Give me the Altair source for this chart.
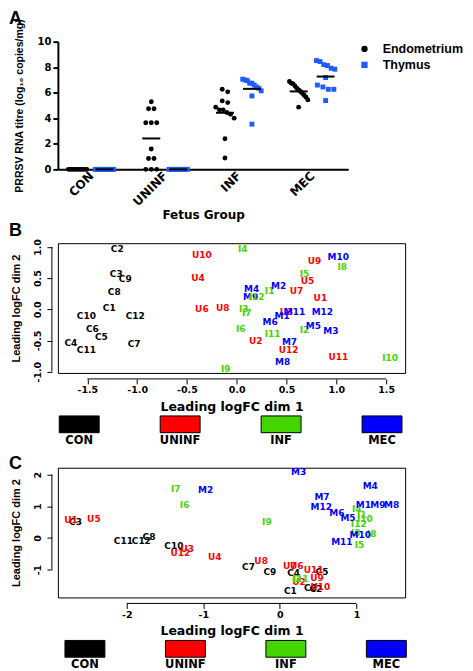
import altair as alt
import numpy as np
import pandas as pd

# ---------------- Panel A data (log10 copies/mg) ----------------
groups = ["CON", "UNINF", "INF", "MEC"]
tissues = ["Endometrium", "Thymus"]
tissue_colors = ["#000000", "#1f5cff"]

con_endometrium = [0, 0, 0, 0, 0, 0, 0, 0, 0, 0, 0, 0]
uninf_endometrium = [5.3, 4.75, 4.75, 3.65, 3.65, 3.65, 1.6, 0.85, 0.85, 0, 0, 0]
inf_endometrium = [6.27, 6.07, 5.36, 5.23, 4.87, 4.66, 4.66, 4.45, 4.32, 4.01, 2.40, 0.89]
mec_endometrium = [6.88, 6.75, 6.69, 6.53, 6.35, 6.22, 6.1, 5.96, 5.8, 5.65, 5.44, 4.87]

con_thymus = [0, 0, 0, 0, 0, 0, 0, 0, 0, 0, 0, 0]
uninf_thymus = [0, 0, 0, 0, 0, 0, 0, 0, 0, 0, 0, 0]
inf_thymus = [7.06, 7.0, 6.95, 6.75, 6.75, 6.6, 6.45, 6.35, 6.15, 5.75, 3.54]
mec_thymus = [8.52, 8.44, 8.2, 8.13, 7.92, 7.84, 7.19, 6.45, 6.6, 6.27, 6.27, 5.39]

# ---------------- Panel B data (MDS, first set) ----------------
b_labels = ["C2", "C3", "C9", "C8", "C1", "C10", "C12", "C6", "C5", "C4", "C11", "C7",
            "U10", "U4", "U6", "U8", "U9", "U5", "U7", "U1", "U3", "U2", "U12", "U11",
            "I4", "I5", "I8", "I1", "I3", "I7", "I6", "I11", "I2", "I9", "I10",
            "M10", "M2", "M4", "M9", "I12", "M1", "M11", "M12", "M6", "M5", "M3", "M7", "M8"]
b_dim1 = [-1.20, -1.21, -1.12, -1.23, -1.28, -1.51, -1.02, -1.45, -1.36, -1.665, -1.51, -1.03,
          -0.35, -0.39, -0.35, -0.14, 0.78, 0.71, 0.60, 0.84, 0.50, 0.19, 0.52, 1.02,
          0.06, 0.68, 1.06, 0.33, 0.07, 0.10, 0.04, 0.36, 0.68, -0.11, 1.54,
          1.02, 0.42, 0.15, 0.14, 0.20, 0.455, 0.58, 0.86, 0.335, 0.77, 0.945, 0.53, 0.46]
b_dim2 = [0.97, 0.57, 0.48, 0.28, 0.02, -0.11, -0.10, -0.32, -0.45, -0.54, -0.65, -0.55,
          0.87, 0.50, 0.00, 0.02, 0.77, 0.46, 0.29, 0.18, -0.05, -0.51, -0.65, -0.76,
          0.96, 0.57, 0.68, 0.29, 0.00, -0.06, -0.31, -0.39, -0.33, -0.95, -0.78,
          0.84, 0.37, 0.32, 0.20, 0.20, -0.10, -0.05, -0.04, -0.21, -0.27, -0.35, -0.53, -0.85]

# ---------------- Panel C data (MDS, second set) ----------------
c_labels = ["C3", "C11", "C12", "C8", "C10", "C7", "C9", "C5", "C4", "C6", "C2", "C1",
            "U1", "U5", "U3", "U12", "U4", "U8", "U7", "U6", "U11", "U9", "U2", "U10",
            "I7", "I6", "I9", "I4", "I1", "I10", "I12", "I3", "I8", "I5", "I2", "I11",
            "M2", "M3", "M4", "M7", "M12", "M6", "M5", "M1", "M9", "M8", "M10", "M11"]
c_dim1 = [-2.67, -2.045, -1.81, -1.71, -1.385, -0.41, -0.13, 0.55, 0.18, 0.40, 0.47, 0.137,
          -2.73, -2.43, -1.21, -1.30, -0.85, -0.245, 0.13, 0.22, 0.44, 0.485, 0.25, 0.53,
          -1.36, -1.245, -0.17, 1.006, 1.07, 1.11, 1.03, 0.99, 1.20, 1.04, 0.22, 0.27,
          -0.97, 0.245, 1.18, 0.55, 0.54, 0.745, 0.89, 1.09, 1.28, 1.46, 1.05, 0.81]
c_dim2 = [0.49, -0.10, -0.10, 0.03, -0.26, -0.93, -1.07, -1.07, -1.12, -1.57, -1.60, -1.68,
          0.56, 0.61, -0.34, -0.49, -0.61, -0.74, -0.88, -0.88, -1.02, -1.26, -1.38, -1.55,
          1.56, 1.05, 0.51, 0.93, 0.74, 0.59, 0.45, 0.16, 0.14, -0.21, -1.30, -1.31,
          1.53, 2.07, 1.63, 1.29, 0.98, 0.80, 0.64, 1.05, 1.05, 1.03, 0.085, -0.13]

group_colors = ["#000000", "#ff0000", "#44d400", "#0000ff"]
prefix = {"C": "CON", "U": "UNINF", "I": "INF", "M": "MEC"}

HF = "DejaVu Sans"        # wide face for horizontal text
RF = "Liberation Sans"    # face for rotated titles / panel letters


# ---------------- Panel A ----------------
def swarm(vals, tol=0.35, step=0.0745, cap=0.125):
    vals = np.asarray(vals, dtype=float)
    order = list(np.argsort(-vals, kind="stable"))
    offs = np.zeros(len(vals))
    clusters, cur = [], [order[0]]
    for idx in order[1:]:
        if abs(vals[idx] - vals[cur[-1]]) <= tol:
            cur.append(idx)
        else:
            clusters.append(cur)
            cur = [idx]
    clusters.append(cur)
    for cl in clusters:
        n = len(cl)
        if n == 1:
            continue
        st = min(step, 2 * cap / (n - 1))
        for k, idx in enumerate(cl):
            offs[idx] = (k - (n - 1) / 2) * st
    return offs


columns = [
    ("CON", "Endometrium", con_endometrium), ("CON", "Thymus", con_thymus),
    ("UNINF", "Endometrium", uninf_endometrium), ("UNINF", "Thymus", uninf_thymus),
    ("INF", "Endometrium", inf_endometrium), ("INF", "Thymus", inf_thymus),
    ("MEC", "Endometrium", mec_endometrium), ("MEC", "Thymus", mec_thymus),
]
side = {"Endometrium": -0.183, "Thymus": 0.183}
rows = []
for g, t, vals in columns:
    c = groups.index(g) + side[t]
    for v, j in zip(vals, swarm(vals)):
        rows.append({"group": g, "tissue": t, "value": v, "center": c, "pos": c + j})
dfA = pd.DataFrame(rows)

xA = alt.Scale(domain=[-0.45, 3.49], nice=False, zero=False)
yA = alt.Scale(domain=[0, 10], nice=False, zero=False)
label_expr = "[" + ",".join("'%s'" % g for g in groups) + "][datum.value]"
xaxisA = alt.Axis(values=list(range(len(groups))), labelExpr=label_expr, labelAngle=-45,
                  labelAlign="right", labelBaseline="middle", ticks=False, domainWidth=2,
                  labelFont=HF, labelFontWeight="bold", labelFontSize=12, labelPadding=4,
                  labelOverlap=False, labelFlush=False,
                  title="Fetus Group", titleFont=HF, titleFontWeight="bold", titleFontSize=12,
                  titlePadding=2, grid=False)
yaxisA = alt.Axis(values=[0, 2, 4, 6, 8, 10], tickSize=5, tickWidth=2, domainWidth=2,
                  labelFont=HF, labelFontWeight="bold", labelFontSize=10, labelPadding=2,
                  title="PRRSV RNA titre (log\u2081\u2080 copies/mg)", titleFont=RF,
                  titleFontWeight="bold", titleFontSize=10.5, titlePadding=13, grid=False)
legA = alt.Legend(orient="none", legendX=301, legendY=1, title=None, labelFont=RF,
                  labelFontWeight="bold", labelFontSize=12.5, symbolSize=40, labelOffset=12,
                  rowPadding=3, padding=0, symbolStrokeWidth=0)

ptsA = alt.Chart(dfA).mark_point(filled=True, opacity=1, size=24).encode(
    x=alt.X("pos:Q", scale=xA, axis=xaxisA),
    y=alt.Y("value:Q", scale=yA, axis=yaxisA),
    color=alt.Color("tissue:N", scale=alt.Scale(domain=tissues, range=tissue_colors), legend=legA),
    shape=alt.Shape("tissue:N", scale=alt.Scale(domain=tissues, range=["circle", "square"]), legend=legA),
)
meanA = alt.Chart(dfA).transform_aggregate(
    m="mean(value)", groupby=["center"]
).transform_calculate(
    lo="datum.center - 0.122", hi="datum.center + 0.122"
).mark_rule(color="black", strokeWidth=2).encode(
    x=alt.X("lo:Q", scale=xA, axis=xaxisA), x2="hi:Q",
    y=alt.Y("m:Q", scale=yA, axis=yaxisA),
)
letterA = alt.Chart(pd.DataFrame({"t": ["A"]})).mark_text(
    font=RF, fontWeight="bold", fontSize=18, align="left", baseline="top"
).encode(text="t:N", x=alt.value(-49), y=alt.value(-32))

panelA = alt.layer(ptsA, meanA, letterA).properties(width=291, height=128)

# ---------------- Panels B and C ----------------
BOX = "M-1,-0.42L1,-0.42L1,0.42L-1,0.42Z"
W, H = 348, 130


def mds_panel(labels, d1, d2, xdom, ydom, xticks, yticks, fmt, letter, letter_y, leg_pad, leg_align):
    df = pd.DataFrame({"label": labels, "dim1": d1, "dim2": d2})
    df["group"] = [prefix[s[0]] for s in labels]
    xs = alt.Scale(domain=xdom, nice=False, zero=False)
    ys = alt.Scale(domain=ydom, nice=False, zero=False)
    col = alt.Scale(domain=groups, range=group_colors)
    fix_minus = "replace(datum.label, '\u2212', '-')"
    xax = alt.Axis(values=xticks, format=fmt, labelExpr=fix_minus, domain=False, offset=6,
                   tickSize=5, labelFont=HF, labelFontWeight="bold", labelFontSize=9.5,
                   labelPadding=1, labelFlush=False, labelOverlap=False,
                   title="Leading logFC dim 1", titleFont=HF, titleFontWeight="bold",
                   titleFontSize=12.5, titlePadding=6, grid=False)
    yax = alt.Axis(values=yticks, format=fmt, labelExpr=fix_minus, domain=False, offset=6,
                   tickSize=5, labelAngle=-90, labelAlign="center", labelBaseline="bottom",
                   labelFont=HF, labelFontWeight="bold", labelFontSize=9.5, labelPadding=4,
                   labelFlush=False, labelOverlap=False,
                   title="Leading logFC dim 2", titleFont=RF, titleFontWeight="bold",
                   titleFontSize=11, titlePadding=11, grid=False)
    texts = alt.Chart(df).mark_text(font=HF, fontWeight="bold", fontSize=9).encode(
        x=alt.X("dim1:Q", scale=xs, axis=xax),
        y=alt.Y("dim2:Q", scale=ys, axis=yax),
        text="label:N",
        color=alt.Color("group:N", scale=col, legend=None),
    )
    ends_x = pd.DataFrame({"a": [xticks[0]], "b": [xticks[-1]]})
    ends_y = pd.DataFrame({"a": [yticks[0]], "b": [yticks[-1]]})
    rule_x = alt.Chart(ends_x).mark_rule(color="black", strokeWidth=1).encode(
        x=alt.X("a:Q", scale=xs, axis=xax), x2="b:Q", y=alt.value(H + 6))
    rule_y = alt.Chart(ends_y).mark_rule(color="black", strokeWidth=1).encode(
        y=alt.Y("a:Q", scale=ys, axis=yax), y2="b:Q", x=alt.value(-6))
    let = alt.Chart(pd.DataFrame({"t": [letter]})).mark_text(
        font=RF, fontWeight="bold", fontSize=18, align="left", baseline="top"
    ).encode(text="t:N", x=alt.value(-49), y=alt.value(letter_y))

    dl = pd.DataFrame({"group": groups})
    lx = alt.X("group:N", scale=alt.Scale(type="point", domain=groups, padding=leg_pad,
                                          align=leg_align), axis=None)
    boxes = alt.Chart(dl).mark_point(shape=BOX, size=1600, filled=True, opacity=1,
                                     stroke="black", strokeWidth=1).encode(
        x=lx, y=alt.value(H + 51.5),
        fill=alt.Fill("group:N", scale=col, legend=None))
    names = alt.Chart(dl).mark_text(font=HF, fontWeight="bold", fontSize=11.5,
                                    baseline="top", color="black").encode(
        x=lx, y=alt.value(H + 62), text="group:N")

    return alt.layer(
        alt.layer(rule_x, rule_y, texts, let),
        alt.layer(boxes, names),
    ).resolve_scale(x="independent").properties(
        width=W, height=H, view=alt.ViewBackground(stroke="black", strokeWidth=1))


panelB = mds_panel(b_labels, b_dim1, b_dim2, [-1.796, 1.691], [-1.02, 1.06],
                   [-1.5, -1.0, -0.5, 0.0, 0.5, 1.0, 1.5], [-1.0, -0.5, 0.0, 0.5, 1.0],
                   ".1f", "B", -21, 0.22, 0.48)
panelC = mds_panel(c_labels, c_dim1, c_dim2, [-2.90, 1.636], [-1.88, 2.22],
                   [-2, -1, 0, 1], [-1, 0, 1, 2], "d", "C", -13, 0.228, 0.59)

lower = alt.vconcat(panelB, panelC, spacing=95, bounds="flush").resolve_scale(
    color="independent", fill="independent")

chart = alt.vconcat(
    panelA, lower, spacing=74, bounds="flush",
).resolve_scale(
    color="independent", fill="independent", shape="independent"
).properties(
    padding=0, background="white"
).configure_view(
    stroke="transparent"
).configure_axis(
    labelColor="black", titleColor="black", domainColor="black", tickColor="black"
)

chart.save("out.html", embed_options={"renderer": "svg", "actions": False})
